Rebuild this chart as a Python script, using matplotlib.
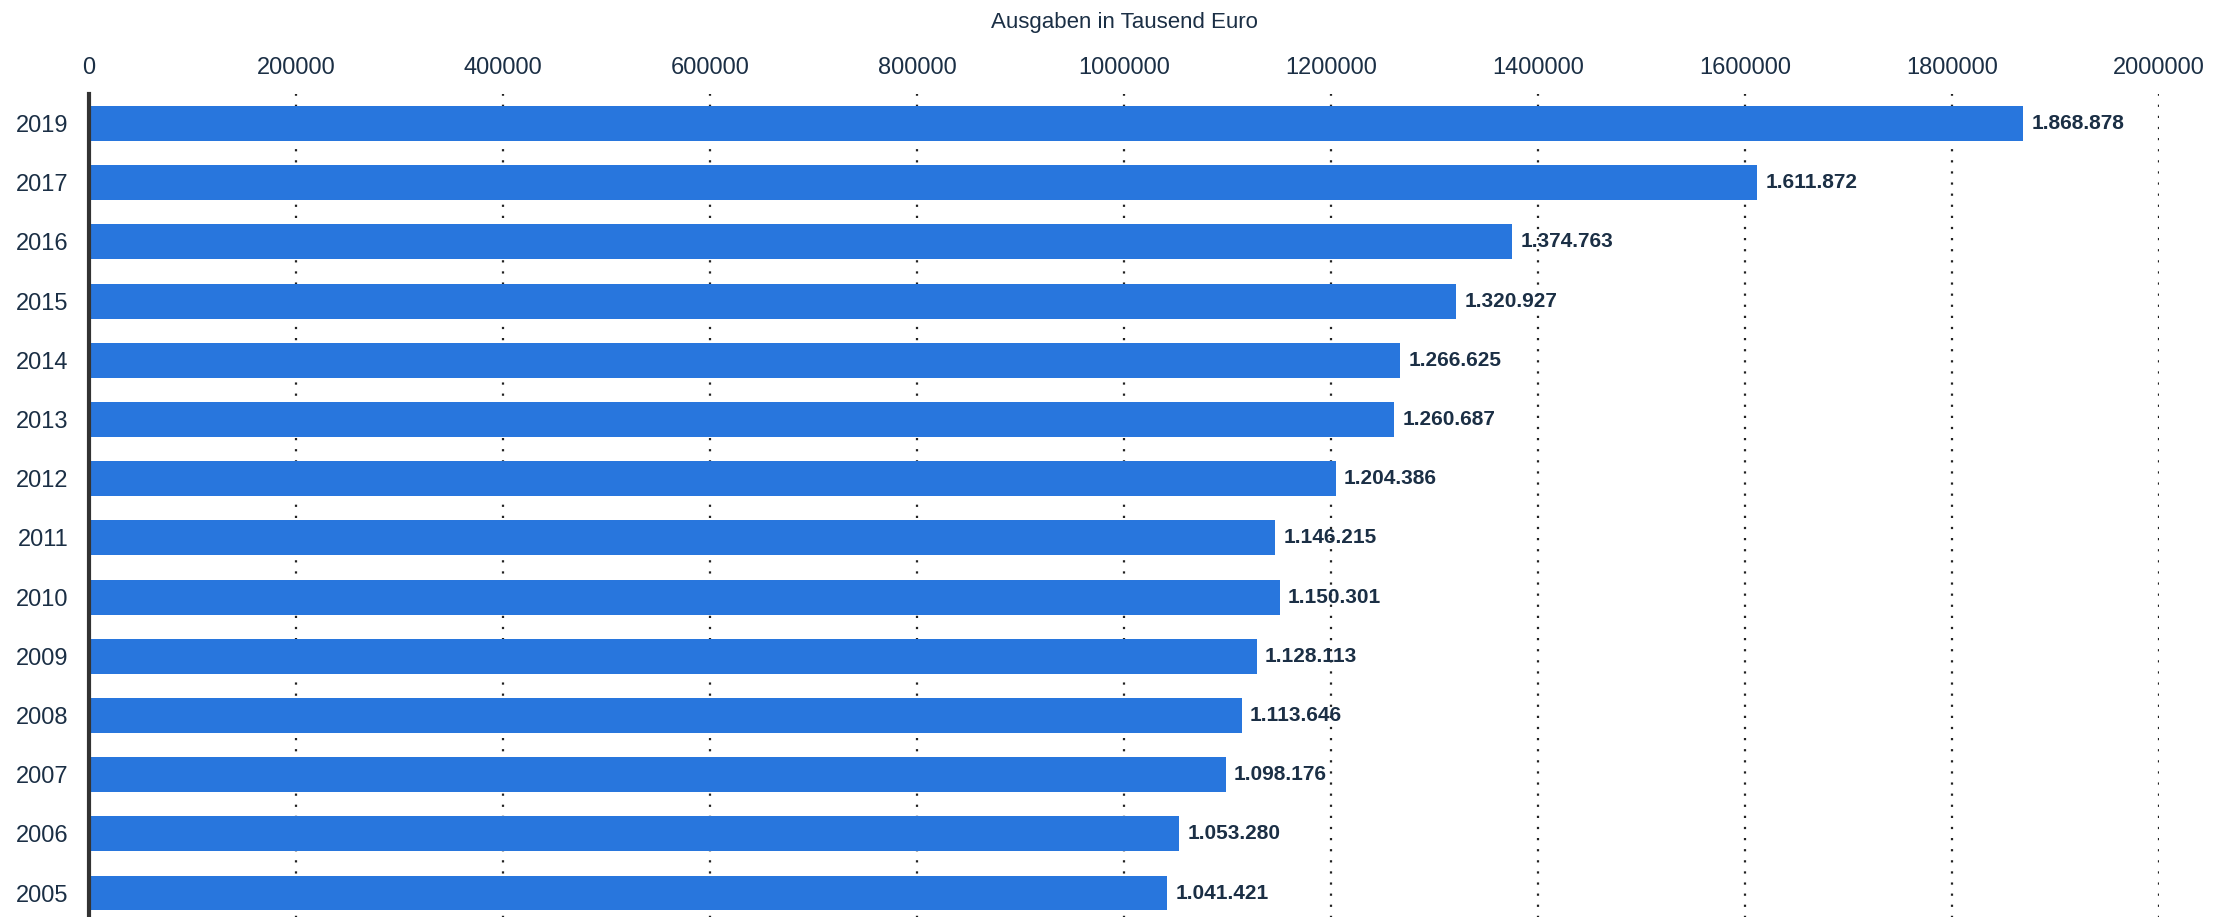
import matplotlib
matplotlib.use('Agg')
import matplotlib.pyplot as plt

years = ['2019', '2017', '2016', '2015', '2014', '2013', '2012',
         '2011', '2010', '2009', '2008', '2007', '2006', '2005']
ausgaben = [1868878, 1611872, 1374763, 1320927, 1266625, 1260687, 1204386,
            1146215, 1150301, 1128113, 1113646, 1098176, 1053280, 1041421]
xticks = [0, 200000, 400000, 600000, 800000, 1000000, 1200000,
          1400000, 1600000, 1800000, 2000000]

plt.rcParams['font.family'] = ['Liberation Sans', 'DejaVu Sans']
txt = '#1b2f45'
blue = '#2876dd'

fig = plt.figure(figsize=(22.32, 9.17), dpi=100)
ax = fig.add_axes([0.0399, -0.0061, 0.9274, 0.9036])

pos = list(range(len(years)))
bars = ax.barh(pos, ausgaben, height=0.59, color=blue, zorder=3)
for p, v in zip(pos, ausgaben):
    lab = '{:,}'.format(v).replace(',', '.')
    ax.annotate(lab, (v, p), xytext=(6, 0), textcoords='offset points',
                va='center', ha='left', fontsize=15, fontweight='bold',
                color=txt, zorder=4)

ax.set_ylim(len(years) - 0.5, -0.5)
ax.set_yticks(pos)
ax.set_yticklabels(years)
ax.set_xlim(0, 2000000)
ax.set_xticks(xticks)
ax.set_xticklabels([str(t) for t in xticks])

ax.xaxis.tick_top()
ax.xaxis.set_label_position('top')
ax.set_xlabel('Ausgaben in Tausend Euro', fontsize=16, color=txt, labelpad=21)
ax.tick_params(axis='x', length=0, pad=11, labelsize=17, labelcolor=txt)
ax.tick_params(axis='y', length=0, pad=15, labelsize=17, labelcolor=txt)

for s in ['top', 'right', 'bottom']:
    ax.spines[s].set_visible(False)
ax.spines['left'].set_linewidth(3)
ax.spines['left'].set_color('#333333')
ax.spines['left'].set_zorder(5)

for t in xticks[1:]:
    ax.axvline(t, color='#222222', linewidth=1.6, linestyle=(0, (1, 4)), zorder=1)

fig.savefig('out.png', dpi=100)
